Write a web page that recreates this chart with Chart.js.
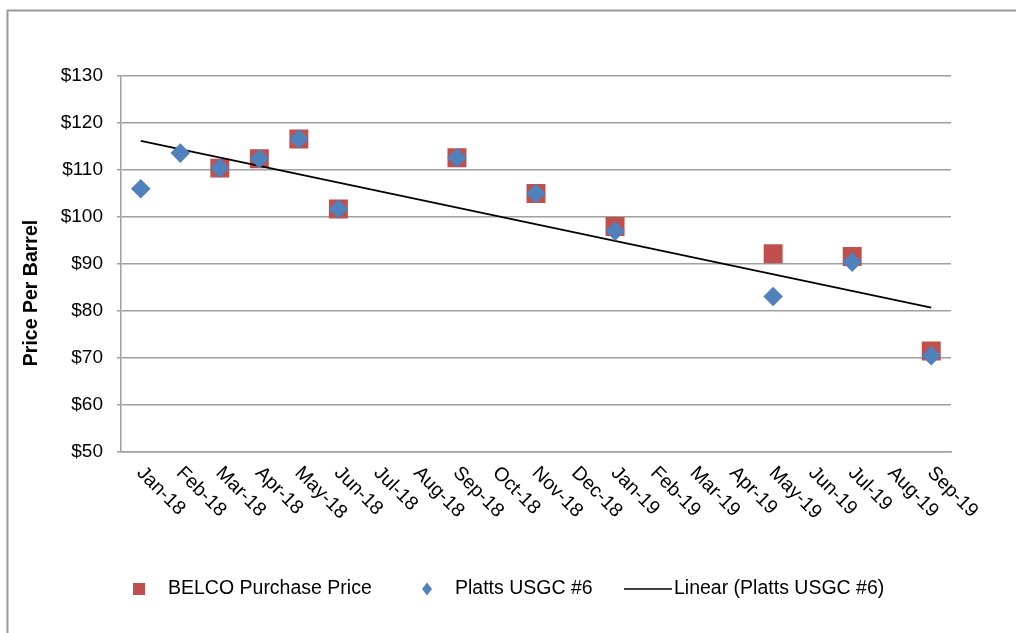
<!DOCTYPE html>
<html>
<head>
<meta charset="utf-8">
<script src="https://cdn.jsdelivr.net/npm/chart.js@4.4.0/dist/chart.umd.min.js"></script>
<style>
  html, body { margin: 0; padding: 0; background: #fff; }
  #wrap { position: relative; width: 1016px; height: 633px; }
</style>
</head>
<body>
<div id="wrap"><canvas id="chart__1" width="1016" height="633"></canvas></div>
<script>
"use strict";

const months = [
  "Jan-18", "Feb-18", "Mar-18", "Apr-18", "May-18", "Jun-18", "Jul-18",
  "Aug-18", "Sep-18", "Oct-18", "Nov-18", "Dec-18", "Jan-19", "Feb-19",
  "Mar-19", "Apr-19", "May-19", "Jun-19", "Jul-19", "Aug-19", "Sep-19",
];
const belcoPrice = [
  null, null, 110.4, 112.4, 116.6, 101.7, null, null, 112.6, null, 105.0,
  null, 98.0, null, null, null, 92.2, null, 91.6, null, 71.5,
];
const plattsPrice = [
  106.0, 113.6, 110.4, 112.4, 116.6, 101.7, null, null, 112.6, null, 105.0,
  null, 97.0, null, null, null, 83.1, null, 90.4, null, 70.5,
];
// trendline end points
const trendPrice = [
  116.2, null, null, null, null, null, null, null, null, null, null,
  null, null, null, null, null, null, null, null, null, 80.7,
];
const yTicks = [50, 60, 70, 80, 90, 100, 110, 120, 130];

const fontFamily = "'Liberation Sans', Arial, sans-serif";
const gridColor = "#a0a0a0";
const chartSelector__1 = document.getElementById("chart__1").getContext("2d");

// x labels run downwards, y title, legend and the outer frame
const chartDecor = {
  id: "chartDecor",
  beforeDraw(chart) {
    const ctx = chart.ctx;
    ctx.save();
    ctx.strokeStyle = "#999999";
    ctx.lineWidth = 2;
    ctx.beginPath();
    ctx.moveTo(7.5, 633);
    ctx.lineTo(7.5, 10.5);
    ctx.lineTo(1016, 10.5);
    ctx.stroke();
    ctx.restore();
  },
  afterDraw(chart) {
    const ctx = chart.ctx;
    const xScale = chart.scales.x;
    const area = chart.chartArea;
    ctx.save();
    ctx.fillStyle = "#000";
    ctx.font = "19.5px " + fontFamily;
    ctx.textAlign = "left";
    ctx.textBaseline = "middle";
    months.forEach((m, i) => {
      const x = xScale.getPixelForValue(i);
      ctx.save();
      ctx.translate(x - 1, area.bottom + 18);
      ctx.rotate(Math.PI / 4);
      ctx.fillText(m, 0, 0);
      ctx.restore();
    });

    ctx.save();
    ctx.font = "bold 19.5px " + fontFamily;
    ctx.textAlign = "center";
    ctx.translate(32, 293);
    ctx.rotate(-Math.PI / 2);
    ctx.fillText("Price Per Barrel", 0, 0);
    ctx.restore();

    const ds = chart.data.datasets;
    const ly = 589;
    ctx.font = "19.5px " + fontFamily;
    ctx.fillStyle = ds[0].backgroundColor;
    ctx.fillRect(133, ly - 6, 12, 12);
    ctx.fillStyle = "#000";
    ctx.fillText(ds[0].label, 168, ly);

    ctx.fillStyle = ds[1].backgroundColor;
    ctx.beginPath();
    ctx.moveTo(427, ly - 6.5);
    ctx.lineTo(432, ly);
    ctx.lineTo(427, ly + 6.5);
    ctx.lineTo(422, ly);
    ctx.closePath();
    ctx.fill();
    ctx.fillStyle = "#000";
    ctx.fillText(ds[1].label, 455, ly);

    ctx.strokeStyle = ds[2].borderColor;
    ctx.lineWidth = 1.5;
    ctx.beginPath();
    ctx.moveTo(624, ly);
    ctx.lineTo(672, ly);
    ctx.stroke();
    ctx.fillText(ds[2].label, 674, ly);
    ctx.restore();
  },
};

const chartConfig = {
  type: "line",
  data: {
    labels: months,
    datasets: [
      {
        label: "BELCO Purchase Price",
        data: belcoPrice,
        showLine: false,
        pointStyle: "rect",
        pointRadius: 13.4,
        pointBorderWidth: 0,
        borderColor: "#c0504d",
        backgroundColor: "#c0504d",
        order: 3,
      },
      {
        label: "Platts USGC #6",
        data: plattsPrice,
        showLine: false,
        pointStyle: "rectRot",
        pointRadius: 9.8,
        pointBorderWidth: 0,
        borderColor: "#4f81bd",
        backgroundColor: "#4f81bd",
        order: 1,
      },
      {
        label: "Linear (Platts USGC #6)",
        data: trendPrice,
        spanGaps: true,
        pointRadius: 0,
        borderWidth: 1.8,
        borderColor: "#000000",
        backgroundColor: "#000000",
        order: 2,
      },
    ],
  },
  options: {
    responsive: false,
    animation: false,
    events: [],
    layout: {
      padding: { top: 76, right: 65, left: 0, bottom: 0 },
    },
    plugins: {
      legend: { display: false },
      tooltip: { enabled: false },
    },
    scales: {
      x: {
        offset: true,
        grid: { display: false },
        border: { display: true, color: gridColor, width: 1.5 },
        ticks: { display: false },
        afterFit(scale) {
          scale.height = 181;
        },
      },
      y: {
        min: 50,
        max: 130,
        afterBuildTicks(scale) {
          scale.ticks = yTicks.map((v) => ({ value: v }));
        },
        afterFit(scale) {
          scale.width = 121;
        },
        grid: {
          color: gridColor,
          lineWidth: 1.5,
          tickLength: 4,
        },
        border: { display: true, color: gridColor, width: 1.5 },
        ticks: {
          padding: 14,
          color: "#000",
          font: { family: fontFamily, size: 19 },
          callback: (v) => "$" + v,
        },
      },
    },
  },
  plugins: [chartDecor],
};

const chart__1 = new Chart(chartSelector__1, chartConfig);
</script>
</body>
</html>
